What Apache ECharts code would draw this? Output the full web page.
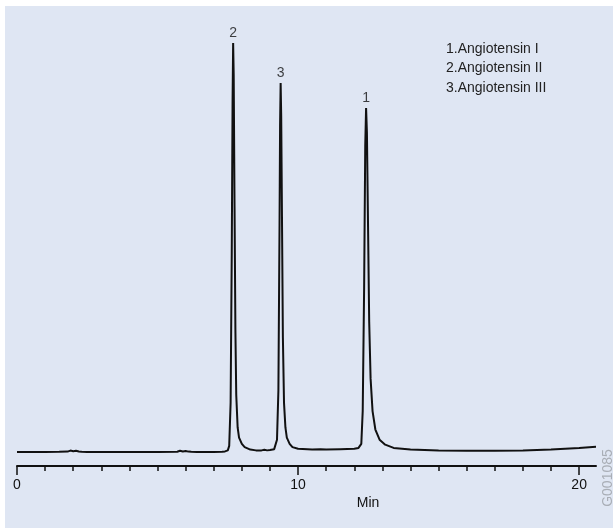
<!DOCTYPE html>
<html>
<head>
<meta charset="utf-8">
<script src="https://cdn.jsdelivr.net/npm/echarts@6/dist/echarts.min.js"></script>
<style>
html,body{margin:0;padding:0;background:#fff;}
#c{width:613px;height:528px;}
</style>
</head>
<body>
<div id="c"></div>
<script>
// Retention time (min)
var times = [0, 0.5, 1.0, 1.5, 1.8, 1.9, 2.0, 2.1, 2.2, 2.3, 2.5, 3.0, 4.0, 5.0, 5.7, 5.8, 5.9, 6.0, 6.1, 6.2, 6.4, 7.0, 7.3, 7.4, 7.5, 7.55, 7.6, 7.64, 7.67, 7.69, 7.71, 7.74, 7.77, 7.8, 7.85, 7.9, 8.0, 8.1, 8.3, 8.5, 8.7, 8.8, 8.9, 9.0, 9.15, 9.2, 9.25, 9.3, 9.34, 9.36, 9.38, 9.4, 9.43, 9.46, 9.5, 9.55, 9.6, 9.7, 9.8, 10.0, 10.5, 10.8, 11.0, 11.5, 12.0, 12.15, 12.25, 12.3, 12.35, 12.39, 12.42, 12.45, 12.49, 12.53, 12.58, 12.65, 12.75, 12.9, 13.1, 13.4, 14.0, 15.0, 16.0, 17.0, 18.0, 19.0, 20.0, 20.6];
// Detector signal (relative)
var signal = [0, 0, 0, 0.05, 0.1, 0.35, 0.2, 0.3, 0.15, 0.05, 0, 0, 0, 0, 0.05, 0.3, 0.15, 0.25, 0.1, 0.05, 0, 0, 0.05, 0.15, 0.4, 1.5, 12, 48, 86, 100, 92, 60, 30, 14, 6, 3.5, 2, 1.2, 0.6, 0.4, 0.4, 0.55, 0.4, 0.5, 0.7, 1.0, 3, 15, 55, 80, 90.2, 82, 55, 28, 12, 6, 3.5, 2, 1.2, 0.8, 0.6, 0.7, 0.6, 0.7, 0.8, 1.0, 2, 10, 40, 75, 84.1, 78, 55, 32, 18, 10, 5.5, 3, 1.8, 1.0, 0.6, 0.4, 0.3, 0.3, 0.4, 0.6, 1.0, 1.3];
// Peak labels
var peakNames = ["2", "3", "1"];
var peakTimes = [7.69, 9.38, 12.42];
var peakHeights = [100, 90.2, 84.1];
// Legend text
var compounds = ["1.Angiotensin I", "2.Angiotensin II", "3.Angiotensin III"];
// Axis ticks
var majorTicks = [0, 10, 20];
var minorTicks = [1, 2, 3, 4, 5, 6, 7, 8, 9, 11, 12, 13, 14, 15, 16, 17, 18, 19];
var xMin = 0, xMax = 20.6;
var yMin = -3.42, yMax = 100;

var lineData = times.map(function (t, i) { return [t, signal[i]]; });
var peakData = peakTimes.map(function (t, i) { return { value: [t, peakHeights[i]], name: peakNames[i] }; });

var chart = echarts.init(document.getElementById('c'), null, { renderer: 'canvas' });
var font = '"Liberation Sans", Arial, sans-serif';
var option = {
  backgroundColor: '#ffffff',
  animation: false,
  grid: { left: 17, right: 17, top: 43, bottom: 62 },
  xAxis: [{
    type: 'value', min: xMin, max: xMax, position: 'bottom', offset: 0,
    axisLine: { show: true, onZero: false, lineStyle: { color: '#111', width: 2 } },
    axisTick: { show: true, customValues: majorTicks, length: 9, lineStyle: { color: '#111', width: 1.5 } },
    axisLabel: { show: true, customValues: majorTicks, margin: 12, fontSize: 14, color: '#111', fontFamily: font },
    splitLine: { show: false }
  }, {
    type: 'value', min: xMin, max: xMax, position: 'bottom', offset: 0,
    axisLine: { show: false, onZero: false },
    axisTick: { show: true, customValues: minorTicks, length: 5, lineStyle: { color: '#111', width: 1.5 } },
    axisLabel: { show: false },
    splitLine: { show: false }
  }],
  yAxis: { type: 'value', min: yMin, max: yMax, show: false, splitLine: { show: false } },
  graphic: [
    { type: 'rect', z: -10, silent: true, shape: { x: 5, y: 6, width: 608, height: 522 }, style: { fill: '#dfe6f3' } },
    { type: 'text', left: 446, top: 39, style: { text: compounds.join('\n'), fontSize: 14, lineHeight: 19.5, fill: '#222', fontFamily: font } },
    { type: 'text', x: 368, y: 503, style: { text: 'Min', fontSize: 14, fill: '#111', fontFamily: font, align: 'center', verticalAlign: 'middle' } },
    { type: 'text', x: 608, y: 478, rotation: Math.PI / 2, style: { text: 'G001085', fontSize: 14, fill: '#a9aeb6', fontFamily: font, align: 'center', verticalAlign: 'middle' } }
  ],
  series: [{
    type: 'line', data: lineData, showSymbol: false, smooth: false,
    lineStyle: { color: '#111', width: 2 }, xAxisIndex: 0
  }, {
    type: 'scatter', data: peakData, symbolSize: 0, xAxisIndex: 0,
    label: { show: true, position: 'top', distance: 3, formatter: '{b}', fontSize: 14, color: '#111', fontFamily: font }
  }]
};
chart.setOption(option);
</script>
</body>
</html>
